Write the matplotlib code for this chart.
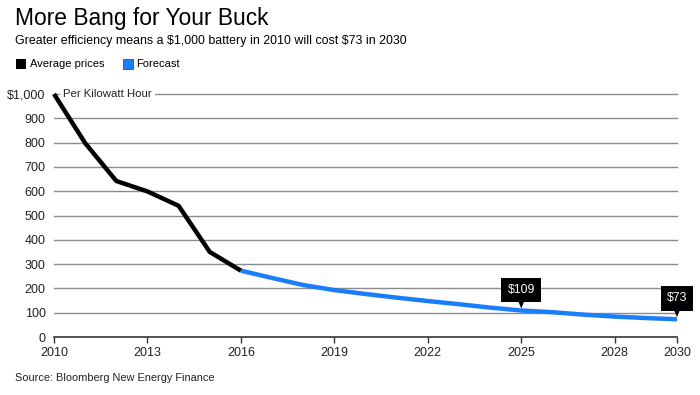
import matplotlib
matplotlib.use("Agg")
import matplotlib.pyplot as plt
from matplotlib.patches import Rectangle

plt.rcParams["font.family"] = ["Liberation Sans", "DejaVu Sans"]

# data ($ per kWh)
hist_years = [2010, 2011, 2012, 2013, 2014, 2015, 2016]
hist_prices = [1000, 798, 642, 599, 540, 350, 273]
fc_years = list(range(2016, 2031))
fc_prices = [273, 243, 214, 193, 177, 162, 148, 135, 121, 109, 102, 92, 84, 78, 73]
xticks = [2010, 2013, 2016, 2019, 2022, 2025, 2028, 2030]
yticks = [0, 100, 200, 300, 400, 500, 600, 700, 800, 900, 1000]
callouts = [(2025, 109, "\\$109"), (2030, 73, "\\$73")]

BLUE = "#1a7efb"
GRID = "#8c8c8c"

fig = plt.figure(figsize=(7, 3.95), dpi=100)
ax = fig.add_axes([54 / 700, 1 - 337 / 395, 623 / 700, (337 - 94) / 395])

ax.set_xlim(2010, 2030)
ax.set_ylim(0, 1000)

# gridlines
for v in yticks[1:]:
    ax.axhline(v, color=GRID, lw=1, zorder=1, clip_on=False)
ax.axhline(0, color="#333333", lw=1.2, zorder=2, clip_on=False)

ax.plot(fc_years, fc_prices, color=BLUE, lw=3.2, solid_capstyle="butt", zorder=3)
ax.plot(hist_years, hist_prices, color="black", lw=3.2, solid_capstyle="butt",
        zorder=6, clip_on=False)

for s in ax.spines.values():
    s.set_visible(False)
ax.set_xticks(xticks)
ax.set_xticklabels([str(x) for x in xticks], fontsize=9, color="#222222")
ax.tick_params(axis="x", length=4, width=1, color="#333333", pad=3)
ax.set_yticks(yticks)
ax.set_yticklabels([("\\$1,000" if v == 1000 else str(v)) for v in yticks],
                   fontsize=9, color="#222222")
ax.tick_params(axis="y", length=0, pad=6)

ax.text(2010.3, 1000, "Per Kilowatt Hour", fontsize=8.2, color="#222222",
        ha="left", va="center", zorder=5,
        bbox=dict(facecolor="white", edgecolor="none", pad=2.5))

# callouts
for x, y, lab in callouts:
    ax.annotate(lab, xy=(x, y), xytext=(0, 15), textcoords="offset points",
                ha="center", va="center", fontsize=8.8, color="white", zorder=7,
                bbox=dict(boxstyle="square,pad=0.5", facecolor="black",
                          edgecolor="none"),
                arrowprops=dict(arrowstyle="wedge,tail_width=0.45", color="black",
                                shrinkA=0, shrinkB=1.5, lw=0),
                annotation_clip=False)

# title block
fig.text(15 / 700, 1 - 18 / 395, "More Bang for Your Buck", fontsize=16.4,
         ha="left", va="center", color="black")
fig.text(15 / 700, 1 - 41 / 395,
         "Greater efficiency means a \\$1,000 battery in 2010 will cost \\$73 in 2030",
         fontsize=8.9, ha="left", va="center", color="black")

# legend
fig.patches.append(Rectangle((16 / 700, 1 - 69 / 395), 10 / 700, 10 / 395,
                             transform=fig.transFigure, facecolor="black",
                             edgecolor="none"))
fig.text(30 / 700, 1 - 64 / 395, "Average prices", fontsize=8, ha="left",
         va="center")
fig.patches.append(Rectangle((123 / 700, 1 - 69 / 395), 10 / 700, 10 / 395,
                             transform=fig.transFigure, facecolor=BLUE,
                             edgecolor="#333333", lw=0.5))
fig.text(136 / 700, 1 - 64 / 395, "Forecast", fontsize=8, ha="left",
         va="center")

fig.text(15 / 700, 1 - 378 / 395, "Source: Bloomberg New Energy Finance",
         fontsize=7.9, ha="left", va="center", color="#222222")

fig.savefig("out.png", dpi=100)
